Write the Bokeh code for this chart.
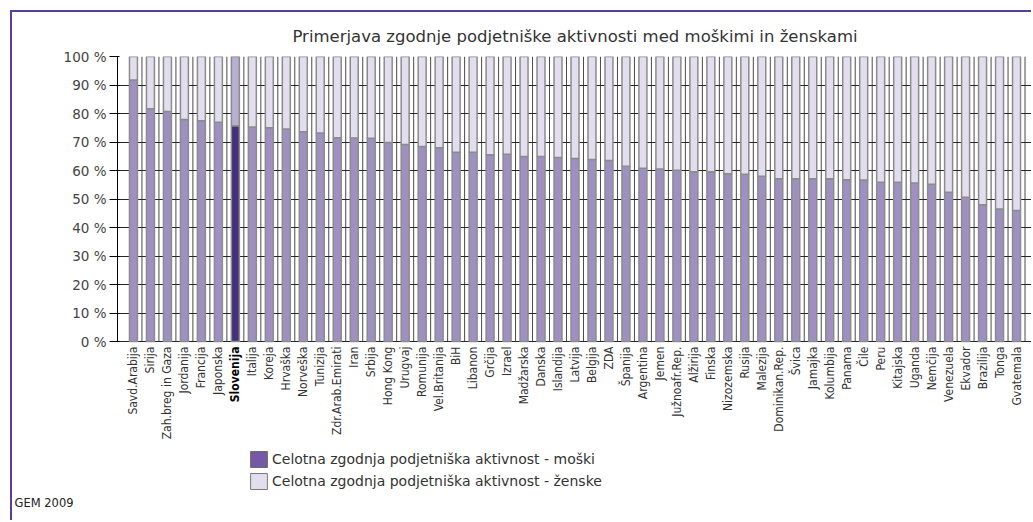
from math import pi
from bokeh.plotting import figure
from bokeh.models import (ColumnDataSource, FactorRange, Range1d, FixedTicker,
                          Legend, LegendItem, Title)
from bokeh.core.properties import value, field
from bokeh.transform import stack, dodge
from bokeh.embed import file_html
from bokeh.resources import INLINE

# ---------------- data ----------------
countries = ["Savd.Arabija", "Sirija", "Zah.breg in Gaza", "Jordanija", "Francija", "Japonska",
             "Slovenija", "Italija", "Koreja", "Hrvaška", "Norveška", "Tunizija",
             "Zdr.Arab.Emirati", "Iran", "Srbija", "Hong Kong", "Urugvaj", "Romunija",
             "Vel.Britanija", "BiH", "Libanon", "Grčija", "Izrael", "Madžarska", "Danska",
             "Islandija", "Latvija", "Belgija", "ZDA", "Španija", "Argentina", "Jemen",
             "Južnoafr.Rep.", "Alžirija", "Finska", "Nizozemska", "Rusija", "Malezija",
             "Dominikan.Rep.", "Švica", "Jamajka", "Kolumbija", "Panama", "Čile", "Peru",
             "Kitajska", "Uganda", "Nemčija", "Venezuela", "Ekvador", "Brazilija", "Tonga",
             "Gvatemala"]
male = [91.8, 81.7, 80.7, 77.9, 77.5, 76.9, 75.7, 75.3, 75.0, 74.6, 73.6, 73.2,
        71.5, 71.4, 71.3, 69.8, 69.1, 68.4, 68.0, 66.4, 66.4, 65.5, 65.7, 64.9, 64.9,
        64.6, 64.2, 63.9, 63.5, 61.5, 60.8, 60.5, 60.1, 59.6, 59.6, 58.9, 58.7, 58.0,
        57.1, 57.1, 57.1, 57.1, 56.8, 56.7, 55.9, 55.9, 55.6, 55.2, 52.4, 50.6, 48.0,
        46.5, 46.0]
female = [8.2, 18.3, 19.3, 22.1, 22.5, 23.1, 24.3, 24.7, 25.0, 25.4, 26.4, 26.8,
          28.5, 28.6, 28.7, 30.2, 30.9, 31.6, 32.0, 33.6, 33.6, 34.5, 34.3, 35.1, 35.1,
          35.4, 35.8, 36.1, 36.5, 38.5, 39.2, 39.5, 39.9, 40.4, 40.4, 41.1, 41.3, 42.0,
          42.9, 42.9, 42.9, 42.9, 43.2, 43.3, 44.1, 44.1, 44.4, 44.8, 47.6, 49.4, 52.0,
          53.5, 54.0]
highlight = "Slovenija"
y_ticks = [0, 10, 20, 30, 40, 50, 60, 70, 80, 90, 100]
y_tick_labels = ["0 %", "10 %", "20 %", "30 %", "40 %", "50 %", "60 %", "70 %", "80 %", "90 %", "100 %"]
title_text = "Primerjava zgodnje podjetniške aktivnosti med moškimi in ženskami"
legend_labels = ["Celotna zgodnja podjetniška aktivnost - moški",
                 "Celotna zgodnja podjetniška aktivnost - ženske"]
source_note = "GEM 2009"

# ---------------- styles ----------------
MALE, MALE_HI = "#9f90c2", "#45307e"
FEMALE, FEMALE_HI = "#e2deee", "#b8afd3"
LEG_MALE = "#7659a6"
EDGE = "#8c8c8c"
FRAME = "#5b3e99"
TXT_FONT = "DejaVu Sans"
CAT_FONT = "DejaVu Sans Condensed"

is_hl = [c == highlight for c in countries]
src = ColumnDataSource(dict(
    country=countries, male=male, female=female,
    male_color=[MALE_HI if h else MALE for h in is_hl],
    female_color=[FEMALE_HI if h else FEMALE for h in is_hl],
    label_style=["bold" if h else "normal" for h in is_hl],
    label_color=["black" if h else "#333333" for h in is_hl],
))

# the plot frame reaches down to the legend area (room below 0 % holds the
# category labels and the legend); the y axis itself is bounded to 0..100 %
p = figure(x_range=FactorRange(*countries, range_padding=0.44, range_padding_units="absolute"),
           y_range=Range1d(-53.3, 100), width=1021, height=510,
           output_backend="svg", toolbar_location=None,
           min_border_left=105, min_border_right=1, min_border_top=44, min_border_bottom=29)
p.styles = {"margin-left": "10px", "margin-top": "10px",
            "border-left": "2px solid " + FRAME, "border-top": "2px solid " + FRAME}
p.outline_line_color = None
p.background_fill_color = "white"
p.border_fill_color = "white"

# title
p.title.text = title_text
p.title.align = "center"
p.title.offset = 2
p.title.text_font = TXT_FONT
p.title.text_font_size = "16.5px"
p.title.text_font_style = "normal"
p.title.text_color = "#333333"
p.title.standoff = 21

# grids
p.xgrid.visible = False
p.ygrid.ticker = FixedTicker(ticks=y_ticks)
p.ygrid.grid_line_color = "#262626"
p.ygrid.grid_line_width = 1
# vertical lines on the category boundaries
p.segment(x0=dodge("country", 0.5, range=p.x_range), y0=0,
          x1=dodge("country", 0.5, range=p.x_range), y1=100, source=src,
          line_color="#4a4a4a", line_width=1, level="underlay")

# bars
r_male = p.vbar(x="country", width=0.47, bottom=0, top=stack("male"), source=src,
                fill_color="male_color", line_color=EDGE, line_width=1.5)
r_female = p.vbar(x="country", width=0.47, bottom=stack("male"), top=stack("male", "female"),
                  source=src, fill_color="female_color", line_color=EDGE, line_width=1.5)

# category labels under the 0 % line
p.text(x="country", y=0, text="country", source=src, angle=pi / 2,
       text_align="right", text_baseline="middle", y_offset=5,
       text_font=value(CAT_FONT), text_font_size="12px",
       text_font_style=field("label_style"), text_color=field("label_color"))

# y axis
yax = p.yaxis[0]
yax.ticker = FixedTicker(ticks=y_ticks)
yax.bounds = (0, 100)
yax.major_label_overrides = dict(zip(y_ticks, y_tick_labels))
yax.minor_tick_line_color = None
yax.major_tick_out = 8
yax.major_tick_in = 2
yax.major_label_standoff = 3
yax.axis_line_color = "black"
yax.major_tick_line_color = "black"
yax.major_label_text_font = TXT_FONT
yax.major_label_text_font_size = "13.5px"
yax.major_label_text_color = "#444444"

p.xaxis.visible = False

# legend: hidden proxy renderers (same data) that carry the legend swatch colours
leg_m = p.vbar(x="country", width=0.47, bottom=0, top=stack("male"), source=src,
               fill_color=LEG_MALE, line_color="#6a6a6a", visible=False)
leg_f = p.vbar(x="country", width=0.47, bottom=stack("male"), top=stack("male", "female"),
               source=src, fill_color=FEMALE, line_color="#7a7a7a", visible=False)
legend = Legend(items=[LegendItem(label=legend_labels[0], renderers=[leg_m], index=0),
                       LegendItem(label=legend_labels[1], renderers=[leg_f], index=0)],
                location=(131, 2), orientation="vertical",
                glyph_width=21, glyph_height=20, label_height=20, label_width=10,
                spacing=2, padding=0, margin=0, label_standoff=3,
                border_line_color=None, background_fill_alpha=0,
                inactive_fill_alpha=0, click_policy="none",
                label_text_font=TXT_FONT, label_text_font_size="14px",
                label_text_color="#333333")
p.add_layout(legend)

# source note
p.add_layout(Title(text=source_note, align="left", offset=-103, standoff=0,
                   text_font=TXT_FONT, text_font_size="11.5px", text_font_style="normal",
                   text_color="#222222"), "below")

open("out.html", "w").write(file_html(p, INLINE))
